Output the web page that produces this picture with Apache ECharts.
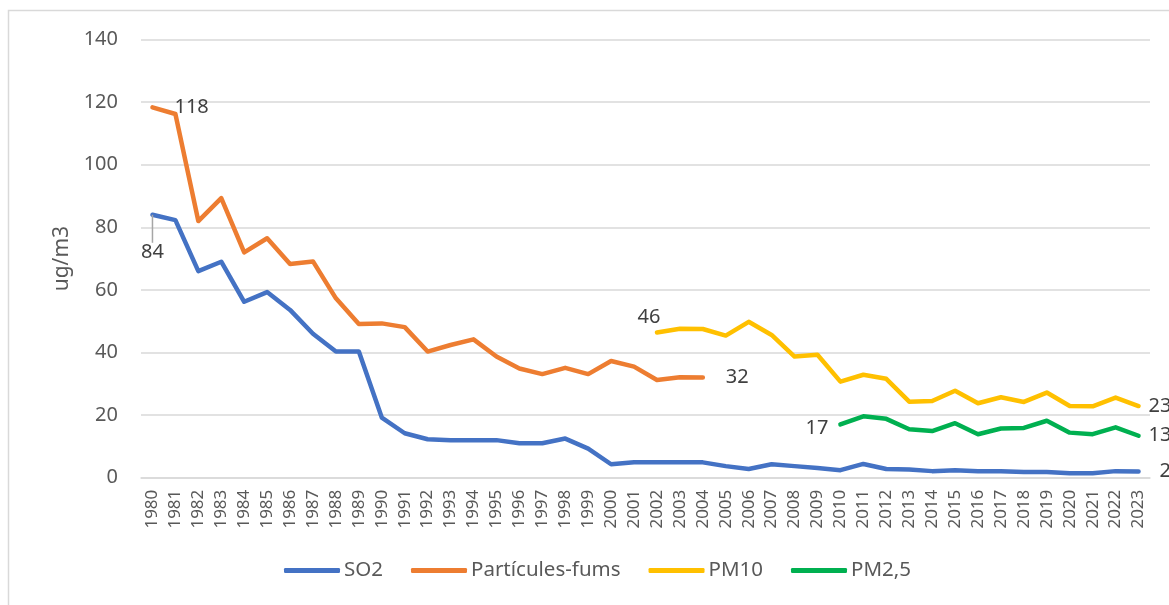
<!DOCTYPE html>
<html>
<head>
<meta charset="utf-8">
<script src="https://cdn.jsdelivr.net/npm/echarts@6/dist/echarts.min.js"></script>
<style>
  html, body { margin: 0; padding: 0; background: #fff; }
  #chart { width: 1169px; height: 605px; }
</style>
</head>
<body>
<div id="chart"></div>
<script>
// years on the x axis
const years = [];
for (let y = 1980; y <= 2023; y++) years.push(String(y));

// series values (ug/m3), each starting at its first year
const so2 = [84, 82.3, 66, 69, 56.2, 59.3, 53.6, 46, 40.3, 40.3,
  19.2, 14.2, 12.3, 12, 12, 12, 11, 11, 12.5, 9.3,
  4.3, 4.9, 4.9, 4.9, 4.9, 3.7, 2.8, 4.3, 3.7, 3.1,
  2.4, 4.4, 2.8, 2.6, 2.1, 2.4, 2.1, 2.1, 1.8, 1.8,
  1.4, 1.4, 2.1, 2.0];
const fums = [118.3, 116.2, 82, 89.3, 72, 76.5, 68.3, 69.1, 57.3, 49.1,
  49.3, 48.1, 40.3, 42.4, 44.2, 38.7, 34.9, 33.1, 35.1, 33.1,
  37.3, 35.5, 31.2, 32.1, 32.0];
const pm10 = [46.4, 47.6, 47.5, 45.4, 49.8, 45.6, 38.7, 39.3, 30.7, 32.9,
  31.6, 24.3, 24.5, 27.8, 23.8, 25.7, 24.2, 27.2, 22.9, 22.8,
  25.6, 22.9];
const pm25 = [17.0, 19.6, 18.8, 15.5, 14.9, 17.4, 13.9, 15.7, 15.9, 18.2,
  14.4, 13.9, 16.1, 13.4];

const startSo2 = 1980, startFums = 1980, startPm10 = 2002, startPm25 = 2010;

// lay values onto the full year axis, with labels on chosen years
function build(values, start, labels) {
  return years.map(function (y) {
    const i = Number(y) - start;
    if (i < 0 || i >= values.length) return null;
    const item = { value: values[i] };
    if (labels[y]) {
      item.label = Object.assign({ show: true }, labels[y]);
      if (labels[y].guide) item.labelLine = { show: true, lineStyle: { color: '#a6a6a6', width: 1.5 } };
    }
    return item;
  });
}

const labelText = { color: '#404040', fontSize: 20, fontFamily: 'Noto Sans' };

function lineSeries(name, color, data, extra) {
  return Object.assign({
    name: name, type: 'line',
    symbol: 'circle', symbolSize: 0, showSymbol: true, connectNulls: false,
    lineStyle: { width: 4.5, color: color, cap: 'round', join: 'round' },
    itemStyle: { color: color },
    emphasis: { disabled: true },
    label: Object.assign({ show: false, formatter: p => Math.round(p.value) }, labelText),
    data: data
  }, extra || {});
}

let chart = echarts.init(document.getElementById('chart'));
chart.setOption({
  backgroundColor: '#fff',
  animation: false,
  graphic: [{
    type: 'rect',
    shape: { x: 8.5, y: 10.5, width: 1200, height: 700 },
    style: { fill: 'none', stroke: '#d9d9d9', lineWidth: 1.5 },
    silent: true
  }],
  grid: { left: 141, right: 19, top: 39.5, bottom: 127.3, containLabel: false, outerBoundsMode: 'none' },
  legend: {
    bottom: 19,
    left: 279,
    itemWidth: 56,
    itemHeight: 5,
    itemGap: 28,
    icon: 'roundRect',
    textStyle: { color: '#595959', fontSize: 20.5, fontFamily: 'Noto Sans', padding: [0, 0, 0, -1] },
    data: ['SO2', 'Partícules-fums', 'PM10', 'PM2,5']
  },
  xAxis: {
    type: 'category',
    data: years,
    boundaryGap: true,
    axisLine: { lineStyle: { color: '#d9d9d9', width: 1.5 } },
    axisTick: { show: false },
    axisLabel: { rotate: 90, interval: 0, color: '#595959', fontSize: 17, fontFamily: 'Noto Sans', margin: 12 }
  },
  yAxis: {
    type: 'value',
    min: 0, max: 140, interval: 20,
    name: 'ug/m3',
    nameLocation: 'middle',
    nameRotate: 90,
    nameGap: 66,
    nameTextStyle: { color: '#595959', fontSize: 21, fontFamily: 'Noto Sans' },
    axisLine: { show: false },
    axisTick: { show: false },
    splitLine: { lineStyle: { color: '#d9d9d9', width: 1.5 } },
    axisLabel: { color: '#595959', fontSize: 20, fontFamily: 'Noto Sans', margin: 23 }
  },
  series: [
    lineSeries('SO2', '#4472C4', build(so2, startSo2, {
      '1980': { position: 'bottom', distance: 10, guide: true },
      '2023': { position: 'right', distance: 21 }
    }), { labelLayout: function (p) { if (p.dataIndex === 0) return { dy: 18 }; } }),
    lineSeries('Partícules-fums', '#ED7D31', build(fums, startFums, {
      '1980': { position: 'right', distance: 22 },
      '2004': { position: 'right', distance: 23 }
    })),
    lineSeries('PM10', '#FFC000', build(pm10, startPm10, {
      '2002': { position: 'top', distance: 5, offset: [-8, 0] },
      '2023': { position: 'right', distance: 10 }
    })),
    lineSeries('PM2,5', '#00B050', build(pm25, startPm25, {
      '2010': { position: 'left', distance: 12, offset: [0, 4] },
      '2023': { position: 'right', distance: 10 }
    }))
  ]
});
window.onresize = () => chart.resize();
</script>
</body>
</html>
